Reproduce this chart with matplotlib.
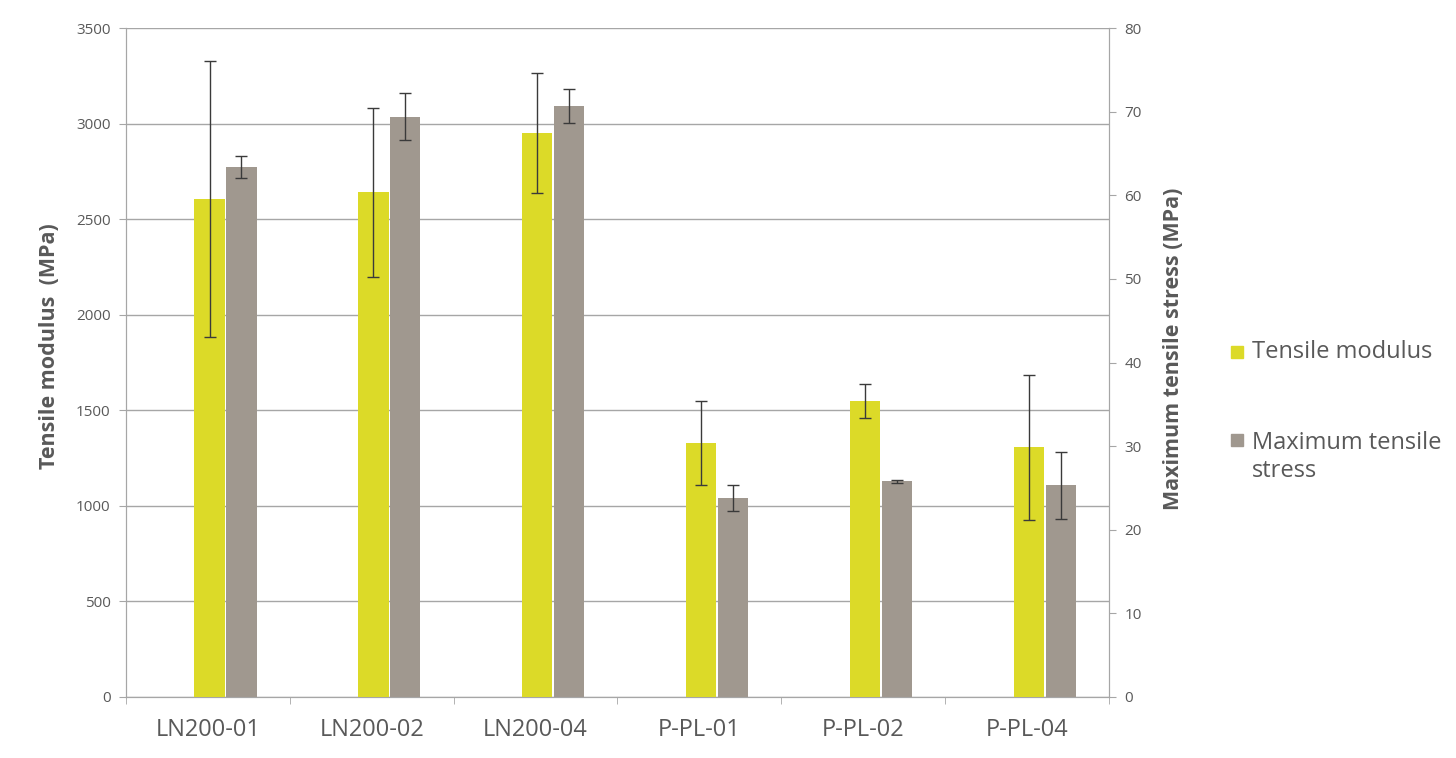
import matplotlib.pyplot as plt
import numpy as np
from matplotlib.patches import Rectangle

plt.rcParams['font.family'] = ['Open Sans', 'DejaVu Sans']

samples = ['LN200-01', 'LN200-02', 'LN200-04', 'P-PL-01', 'P-PL-02', 'P-PL-04']
modulus = [2605, 2640, 2950, 1327, 1550, 1306]
modulus_err = [722, 440, 315, 220, 88, 380]
stress = [63.4, 69.4, 70.7, 23.8, 25.8, 25.3]
stress_err = [1.3, 2.8, 2.0, 1.5, 0.2, 4.0]
series_names = ['Tensile modulus', 'Maximum tensile\nstress']

yellow = '#dcda28'
grey = '#a0988f'
txt = '#595959'
line = '#a6a6a6'

fig = plt.figure(figsize=(14.56, 7.58), dpi=100)
ax = fig.add_axes([0.0865, 0.0805, 0.6752, 0.8825])
ax2 = ax.twinx()

x = np.arange(len(samples))
w = 0.185
ax.bar(x + 0.01, modulus, w, color=yellow, zorder=3)
ax.errorbar(x + 0.01, modulus, yerr=modulus_err, fmt='none', ecolor='#3a3a3a',
            elinewidth=1, capsize=4, capthick=1, zorder=4)
ax2.bar(x + 0.205, stress, w, color=grey, zorder=3)
ax2.errorbar(x + 0.205, stress, yerr=stress_err, fmt='none', ecolor='#3a3a3a',
             elinewidth=1, capsize=4, capthick=1, zorder=4)

ax.set_xlim(-0.5, len(samples) - 0.5)
ax.set_ylim(0, 3500)
ax.set_yticks(range(0, 3501, 500))
ax2.set_ylim(0, 80)
ax2.set_yticks(range(0, 81, 10))
ax.set_xticks(x)
ax.set_xticklabels(samples, fontsize=17, color=txt)
ax.set_xticks(np.arange(-0.5, len(samples)), minor=True)
ax.tick_params(axis='x', which='major', length=0, pad=15)
ax.tick_params(axis='x', which='minor', length=5, color=line, direction='out')
ax.tick_params(axis='y', labelsize=11, colors=txt, length=5, color=line, pad=6)
ax2.tick_params(axis='y', labelsize=11, colors=txt, length=5, color=line, pad=6)

for a in (ax, ax2):
    a.spines['top'].set_visible(False)
    for s in ('left', 'right', 'bottom'):
        a.spines[s].set_color(line)

# grid drawn on the back axes so both bar series sit above it
ax.patch.set_visible(False)
ax2.patch.set_facecolor('white')
ax.set_zorder(2)
ax2.set_zorder(1)
for v in range(0, 3501, 500):
    ax2.axhline(v * 80 / 3500, color=line, linewidth=1, zorder=0)

ax.set_ylabel('Tensile modulus  (MPa)', fontsize=15.5, fontweight='bold', color=txt)
ax.yaxis.set_label_coords(-0.067, 0.525)
ax2.set_ylabel('Maximum tensile stress (MPa)', fontsize=15.5, fontweight='bold', color=txt)
ax2.yaxis.set_label_coords(1.055, 0.52)

# legend, Excel style: square marker next to first line of each label
leg_y = [0.5356, 0.4195]
for col, yy in zip([yellow, grey], leg_y):
    fig.patches.append(Rectangle((0.8455, yy - 0.0079), 0.0083, 0.0158, color=col,
                                 transform=fig.transFigure, figure=fig))
fig.text(0.860, leg_y[0], series_names[0], fontsize=17, color=txt, va='center')
fig.text(0.860, leg_y[1] + 0.012, series_names[1], fontsize=17, color=txt, va='top', linespacing=1.2)

plt.savefig('out.png', dpi=100)
